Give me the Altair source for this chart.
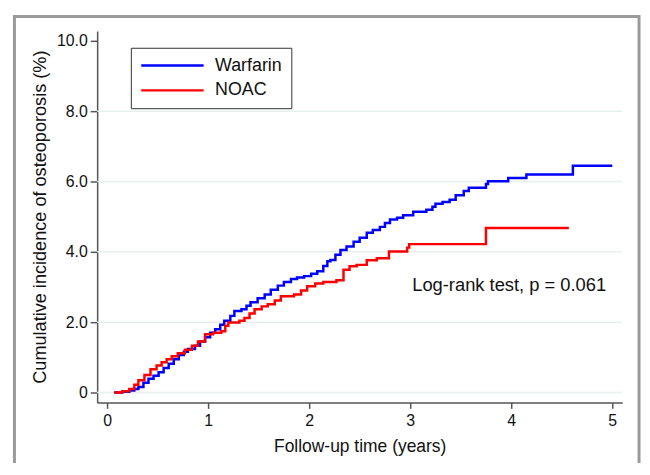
import altair as alt
import pandas as pd

# Warfarin (blue) cumulative incidence
warf_t = [0.07, 0.15, 0.22, 0.27, 0.31, 0.36, 0.41, 0.46, 0.51, 0.56, 0.61, 0.66, 0.71, 0.76, 0.80,
          0.87, 0.92, 0.97, 1.02, 1.07, 1.12, 1.16, 1.22, 1.26, 1.33, 1.38, 1.42, 1.49, 1.56, 1.62,
          1.69, 1.75, 1.82, 1.88, 1.95, 2.02, 2.08, 2.14, 2.18, 2.21, 2.26, 2.31, 2.37, 2.44, 2.50,
          2.57, 2.63, 2.70, 2.75, 2.80, 2.87, 2.93, 3.03, 3.16, 3.22, 3.25, 3.32, 3.39, 3.45, 3.53,
          3.58, 3.75, 3.77, 3.97, 4.15, 4.61, 5.00]
warf_v = [0.00, 0.02, 0.06, 0.10, 0.16, 0.28, 0.39, 0.48, 0.58, 0.70, 0.82, 0.95, 1.07, 1.16, 1.24,
          1.33, 1.45, 1.57, 1.70, 1.80, 1.93, 2.04, 2.18, 2.32, 2.37, 2.47, 2.57, 2.68, 2.79, 2.92,
          3.04, 3.14, 3.23, 3.27, 3.31, 3.38, 3.45, 3.60, 3.73, 3.77, 3.92, 4.05, 4.15, 4.29, 4.40,
          4.54, 4.62, 4.71, 4.82, 4.92, 4.97, 5.04, 5.14, 5.20, 5.28, 5.37, 5.42, 5.48, 5.61, 5.73,
          5.82, 5.93, 6.01, 6.10, 6.20, 6.45, 6.45]

# NOAC (red)
noac_t = [0.07, 0.15, 0.22, 0.27, 0.31, 0.37, 0.43, 0.49, 0.54, 0.59, 0.64, 0.70, 0.77, 0.84, 0.90,
          0.97, 1.05, 1.13, 1.17, 1.20, 1.31, 1.36, 1.41, 1.46, 1.53, 1.59, 1.66, 1.72, 1.85, 1.92,
          1.98, 2.06, 2.14, 2.27, 2.34, 2.40, 2.47, 2.57, 2.67, 2.79, 2.97, 2.99, 3.75, 4.57]
noac_v = [0.00, 0.04, 0.10, 0.22, 0.35, 0.50, 0.66, 0.77, 0.86, 0.95, 1.03, 1.12, 1.22, 1.33, 1.45,
          1.66, 1.70, 1.74, 1.90, 1.99, 2.04, 2.12, 2.25, 2.37, 2.45, 2.51, 2.62, 2.74, 2.79, 2.90,
          3.02, 3.10, 3.14, 3.19, 3.49, 3.59, 3.63, 3.76, 3.82, 4.01, 4.12, 4.22, 4.68, 4.68]

groups = ["Warfarin", "NOAC"]
colors = ["#0000ff", "#ff0000"]
x_ticks = [0, 1, 2, 3, 4, 5]
y_ticks = [0, 2, 4, 6, 8, 10]
grid_vals = [0, 2, 4, 6, 8]
note_text = "Log-rank test, p = 0.061"
note_x, note_y = 3.02, 3.07

df = pd.concat([
    pd.DataFrame({"t": warf_t, "v": warf_v, "g": groups[0]}),
    pd.DataFrame({"t": noac_t, "v": noac_v, "g": groups[1]}),
])

FONT = "Liberation Sans"
xscale = alt.Scale(domain=[-0.098, 5.098], nice=False, zero=False)
yscale = alt.Scale(domain=[-0.28, 10.28], nice=False, zero=False)
xaxis = alt.Axis(values=x_ticks, format="d", title="Follow-up time (years)",
                 grid=False, tickSize=6, labelPadding=4, titlePadding=10, titleFontSize=17.6)
yaxis = alt.Axis(values=y_ticks, grid=False, tickSize=7, labelPadding=3,
                 labelExpr="datum.value == 0 ? '0' : format(datum.value, '.1f')",
                 title="Cumulative incidence of osteoporosis (%)", titlePadding=7,
                 titleFontSize=18.3)

grid = alt.Chart(pd.DataFrame({"y": grid_vals})).mark_rule(
    color="#e8efef", strokeWidth=1.5
).encode(y=alt.Y("y:Q", scale=yscale, axis=yaxis))

lines = alt.Chart(df).mark_line(interpolate="step-after", strokeWidth=2.5).encode(
    x=alt.X("t:Q", scale=xscale, axis=xaxis),
    y=alt.Y("v:Q", scale=yscale, axis=yaxis),
    color=alt.Color("g:N", scale=alt.Scale(domain=groups, range=colors),
                    sort=groups,
                    legend=alt.Legend(title=None, orient="none", legendX=34, legendY=17,
                                      padding=9, strokeColor="#333333", fillColor="white",
                                      symbolType="stroke", symbolSize=3969,
                                      symbolStrokeWidth=2.5, labelFontSize=18,
                                      labelOffset=10, rowPadding=7, clipHeight=18,
                                      labelColor="#111111", labelFont=FONT)),
    detail="g:N",
)

note = alt.Chart(pd.DataFrame({"x": [note_x], "y": [note_y], "text": [note_text]})).mark_text(
    align="left", baseline="middle", fontSize=18.5, font=FONT, color="#111111"
).encode(x=alt.X("x:Q", scale=xscale, axis=xaxis), y=alt.Y("y:Q", scale=yscale, axis=yaxis),
         text="text:N")

frame = alt.Chart(pd.DataFrame({"a": [0]})).mark_rect(
    filled=False, stroke="#9a9a9a", strokeWidth=3, clip=False
).encode(x=alt.value(-83.5), x2=alt.value(547), y=alt.value(-14.5), y2=alt.value(470))

chart = alt.layer(grid, lines, note, frame).properties(
    width=530, height=375,
    autosize=alt.AutoSizeParams(type="none"),
    padding={"left": 90, "top": 21, "right": 20, "bottom": 59},
    background="white",
).configure_view(stroke=None).configure_axis(
    labelFont=FONT, titleFont=FONT, labelFontSize=16,
    titleFontWeight="normal", labelColor="#111111", titleColor="#111111",
    domainColor="#555555", tickColor="#555555", domainWidth=1.5, tickWidth=1.5,
)

chart.save("out.html", embed_options={"renderer": "svg", "actions": False})
